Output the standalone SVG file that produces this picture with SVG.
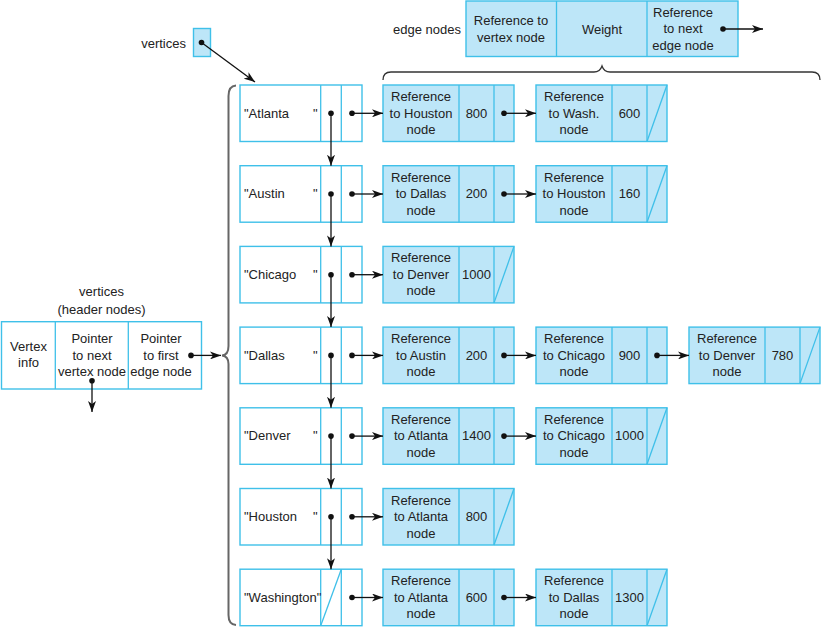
<svg xmlns="http://www.w3.org/2000/svg" width="821" height="627" viewBox="0 0 821 627">
<style>
.vbox{fill:#fff;stroke:#3fc0e9;stroke-width:1.4}
.ebox{fill:#bde6f8;stroke:#3fc0e9;stroke-width:1.4}
.sl{stroke:#3fc0e9;stroke-width:1.3;fill:none}
.t{font-family:"Liberation Sans",Arial,sans-serif;font-size:13px;fill:#222}
.c{text-anchor:middle}
.arr{stroke:#111;stroke-width:1.3;fill:none;marker-end:url(#ah)}
.dot{fill:#111}
.brace{fill:none;stroke:#666;stroke-width:2}
.brace2{fill:none;stroke:#333;stroke-width:1.3}
</style>
<defs>
<marker id="ah" markerUnits="userSpaceOnUse" markerWidth="12" markerHeight="8" refX="11" refY="4" orient="auto">
<path d="M0,0 L11,4 L0,8 L3,4 z" fill="#111"/>
</marker>
</defs>

<!-- legend -->
<g id="legend">
<text class="t" x="393" y="33.5">edge nodes</text>
<rect class="ebox" x="466" y="1" width="272" height="55.5"/>
<line class="sl" x1="556.5" y1="1" x2="556.5" y2="56.5"/>
<line class="sl" x1="647" y1="1" x2="647" y2="56.5"/>
<text class="t c" x="511" y="25">Reference to</text>
<text class="t c" x="511" y="41.5">vertex node</text>
<text class="t c" x="602" y="33.5">Weight</text>
<text class="t c" x="683" y="16.5">Reference</text>
<text class="t c" x="683" y="33">to next</text>
<text class="t c" x="683" y="49.5">edge node</text>
</g>
<path class="brace2" d="M383,80 Q383,72 391,72 L594,72 Q600,72 602,66 Q604,72 610,72 L812,72 Q820,72 820,80"/>

<g id="vertices-ptr">
<text class="t" x="186" y="47.5" text-anchor="end">vertices</text>
<rect class="ebox" x="193.5" y="28.5" width="17" height="28"/>
</g>

<g id="header-legend">
<text class="t c" x="101.5" y="296">vertices</text>
<text class="t c" x="101.5" y="313.5">(header nodes)</text>
<rect class="vbox" x="1.5" y="321.7" width="200" height="67.3"/>
<line class="sl" x1="55.3" y1="321.7" x2="55.3" y2="389"/>
<line class="sl" x1="128.3" y1="321.7" x2="128.3" y2="389"/>
<text class="t c" x="28.5" y="351.2">Vertex</text>
<text class="t c" x="28.5" y="367.2">info</text>
<text class="t c" x="92" y="343">Pointer</text>
<text class="t c" x="92" y="359.5">to next</text>
<text class="t c" x="92" y="376">vertex node</text>
<text class="t c" x="161" y="343">Pointer</text>
<text class="t c" x="161" y="359.5">to first</text>
<text class="t c" x="161" y="376">edge node</text>
</g>
<path class="brace" d="M236,85.5 Q228.5,86 228.5,96 L228.5,346 Q228.5,355 222,355.4 Q228.5,356 228.5,364 L228.5,615 Q228.5,624.5 236,625"/>

<!-- vertex nodes -->
<g id="v-atlanta" transform="translate(0,85)">
<rect class="vbox" x="240" y="0" width="122" height="56.5"/><line class="sl" x1="320.7" y1="0" x2="320.7" y2="56.5"/><line class="sl" x1="341.3" y1="0" x2="341.3" y2="56.5"/>
<text class="t" x="244" y="32.5">"Atlanta<tspan x="313">"</tspan></text>
</g>
<g id="v-austin" transform="translate(0,165.7)">
<rect class="vbox" x="240" y="0" width="122" height="56.5"/><line class="sl" x1="320.7" y1="0" x2="320.7" y2="56.5"/><line class="sl" x1="341.3" y1="0" x2="341.3" y2="56.5"/>
<text class="t" x="244" y="32.5">"Austin<tspan x="313">"</tspan></text>
</g>
<g id="v-chicago" transform="translate(0,246.4)">
<rect class="vbox" x="240" y="0" width="122" height="56.5"/><line class="sl" x1="320.7" y1="0" x2="320.7" y2="56.5"/><line class="sl" x1="341.3" y1="0" x2="341.3" y2="56.5"/>
<text class="t" x="244" y="32.5">"Chicago<tspan x="313">"</tspan></text>
</g>
<g id="v-dallas" transform="translate(0,327.1)">
<rect class="vbox" x="240" y="0" width="122" height="56.5"/><line class="sl" x1="320.7" y1="0" x2="320.7" y2="56.5"/><line class="sl" x1="341.3" y1="0" x2="341.3" y2="56.5"/>
<text class="t" x="244" y="32.5">"Dallas<tspan x="313">"</tspan></text>
</g>
<g id="v-denver" transform="translate(0,407.8)">
<rect class="vbox" x="240" y="0" width="122" height="56.5"/><line class="sl" x1="320.7" y1="0" x2="320.7" y2="56.5"/><line class="sl" x1="341.3" y1="0" x2="341.3" y2="56.5"/>
<text class="t" x="244" y="32.5">"Denver<tspan x="313">"</tspan></text>
</g>
<g id="v-houston" transform="translate(0,488.5)">
<rect class="vbox" x="240" y="0" width="122" height="56.5"/><line class="sl" x1="320.7" y1="0" x2="320.7" y2="56.5"/><line class="sl" x1="341.3" y1="0" x2="341.3" y2="56.5"/>
<text class="t" x="244" y="32.5">"Houston<tspan x="313">"</tspan></text>
</g>
<g id="v-washington" transform="translate(0,569.2)">
<rect class="vbox" x="240" y="0" width="122" height="56.5"/><line class="sl" x1="320.7" y1="0" x2="320.7" y2="56.5"/><line class="sl" x1="341.3" y1="0" x2="341.3" y2="56.5"/>
<line class="sl" x1="320.7" y1="56.5" x2="341.3" y2="0"/>
<text class="t" x="244" y="32.5">"Washington"</text>
</g>

<!-- edge nodes -->
<g id="e-atl-1" transform="translate(383,85)">
<rect class="ebox" width="131" height="56.5"/><line class="sl" x1="76" y1="0" x2="76" y2="56.5"/><line class="sl" x1="111" y1="0" x2="111" y2="56.5"/>
<text class="t c" x="38" y="16">Reference</text><text class="t c" x="38" y="32.5">to Houston</text><text class="t c" x="38" y="49">node</text><text class="t c" x="93.5" y="32.5">800</text>
</g>
<g id="e-atl-2" transform="translate(536,85)">
<rect class="ebox" width="131" height="56.5"/><line class="sl" x1="76" y1="0" x2="76" y2="56.5"/><line class="sl" x1="111" y1="0" x2="111" y2="56.5"/><line class="sl" x1="111" y1="56.5" x2="131" y2="0"/>
<text class="t c" x="38" y="16">Reference</text><text class="t c" x="38" y="32.5">to Wash.</text><text class="t c" x="38" y="49">node</text><text class="t c" x="93.5" y="32.5">600</text>
</g>
<g id="e-aus-1" transform="translate(383,165.7)">
<rect class="ebox" width="131" height="56.5"/><line class="sl" x1="76" y1="0" x2="76" y2="56.5"/><line class="sl" x1="111" y1="0" x2="111" y2="56.5"/>
<text class="t c" x="38" y="16">Reference</text><text class="t c" x="38" y="32.5">to Dallas</text><text class="t c" x="38" y="49">node</text><text class="t c" x="93.5" y="32.5">200</text>
</g>
<g id="e-aus-2" transform="translate(536,165.7)">
<rect class="ebox" width="131" height="56.5"/><line class="sl" x1="76" y1="0" x2="76" y2="56.5"/><line class="sl" x1="111" y1="0" x2="111" y2="56.5"/><line class="sl" x1="111" y1="56.5" x2="131" y2="0"/>
<text class="t c" x="38" y="16">Reference</text><text class="t c" x="38" y="32.5">to Houston</text><text class="t c" x="38" y="49">node</text><text class="t c" x="93.5" y="32.5">160</text>
</g>
<g id="e-chi-1" transform="translate(383,246.4)">
<rect class="ebox" width="131" height="56.5"/><line class="sl" x1="76" y1="0" x2="76" y2="56.5"/><line class="sl" x1="111" y1="0" x2="111" y2="56.5"/><line class="sl" x1="111" y1="56.5" x2="131" y2="0"/>
<text class="t c" x="38" y="16">Reference</text><text class="t c" x="38" y="32.5">to Denver</text><text class="t c" x="38" y="49">node</text><text class="t c" x="93.5" y="32.5">1000</text>
</g>
<g id="e-dal-1" transform="translate(383,327.1)">
<rect class="ebox" width="131" height="56.5"/><line class="sl" x1="76" y1="0" x2="76" y2="56.5"/><line class="sl" x1="111" y1="0" x2="111" y2="56.5"/>
<text class="t c" x="38" y="16">Reference</text><text class="t c" x="38" y="32.5">to Austin</text><text class="t c" x="38" y="49">node</text><text class="t c" x="93.5" y="32.5">200</text>
</g>
<g id="e-dal-2" transform="translate(536,327.1)">
<rect class="ebox" width="131" height="56.5"/><line class="sl" x1="76" y1="0" x2="76" y2="56.5"/><line class="sl" x1="111" y1="0" x2="111" y2="56.5"/>
<text class="t c" x="38" y="16">Reference</text><text class="t c" x="38" y="32.5">to Chicago</text><text class="t c" x="38" y="49">node</text><text class="t c" x="93.5" y="32.5">900</text>
</g>
<g id="e-dal-3" transform="translate(689,327.1)">
<rect class="ebox" width="131" height="56.5"/><line class="sl" x1="76" y1="0" x2="76" y2="56.5"/><line class="sl" x1="111" y1="0" x2="111" y2="56.5"/><line class="sl" x1="111" y1="56.5" x2="131" y2="0"/>
<text class="t c" x="38" y="16">Reference</text><text class="t c" x="38" y="32.5">to Denver</text><text class="t c" x="38" y="49">node</text><text class="t c" x="93.5" y="32.5">780</text>
</g>
<g id="e-den-1" transform="translate(383,407.8)">
<rect class="ebox" width="131" height="56.5"/><line class="sl" x1="76" y1="0" x2="76" y2="56.5"/><line class="sl" x1="111" y1="0" x2="111" y2="56.5"/>
<text class="t c" x="38" y="16">Reference</text><text class="t c" x="38" y="32.5">to Atlanta</text><text class="t c" x="38" y="49">node</text><text class="t c" x="93.5" y="32.5">1400</text>
</g>
<g id="e-den-2" transform="translate(536,407.8)">
<rect class="ebox" width="131" height="56.5"/><line class="sl" x1="76" y1="0" x2="76" y2="56.5"/><line class="sl" x1="111" y1="0" x2="111" y2="56.5"/><line class="sl" x1="111" y1="56.5" x2="131" y2="0"/>
<text class="t c" x="38" y="16">Reference</text><text class="t c" x="38" y="32.5">to Chicago</text><text class="t c" x="38" y="49">node</text><text class="t c" x="93.5" y="32.5">1000</text>
</g>
<g id="e-hou-1" transform="translate(383,488.5)">
<rect class="ebox" width="131" height="56.5"/><line class="sl" x1="76" y1="0" x2="76" y2="56.5"/><line class="sl" x1="111" y1="0" x2="111" y2="56.5"/><line class="sl" x1="111" y1="56.5" x2="131" y2="0"/>
<text class="t c" x="38" y="16">Reference</text><text class="t c" x="38" y="32.5">to Atlanta</text><text class="t c" x="38" y="49">node</text><text class="t c" x="93.5" y="32.5">800</text>
</g>
<g id="e-was-1" transform="translate(383,569.2)">
<rect class="ebox" width="131" height="56.5"/><line class="sl" x1="76" y1="0" x2="76" y2="56.5"/><line class="sl" x1="111" y1="0" x2="111" y2="56.5"/>
<text class="t c" x="38" y="16">Reference</text><text class="t c" x="38" y="32.5">to Atlanta</text><text class="t c" x="38" y="49">node</text><text class="t c" x="93.5" y="32.5">600</text>
</g>
<g id="e-was-2" transform="translate(536,569.2)">
<rect class="ebox" width="131" height="56.5"/><line class="sl" x1="76" y1="0" x2="76" y2="56.5"/><line class="sl" x1="111" y1="0" x2="111" y2="56.5"/><line class="sl" x1="111" y1="56.5" x2="131" y2="0"/>
<text class="t c" x="38" y="16">Reference</text><text class="t c" x="38" y="32.5">to Dallas</text><text class="t c" x="38" y="49">node</text><text class="t c" x="93.5" y="32.5">1300</text>
</g>

<!-- connectors -->
<g id="connectors">
<circle class="dot" cx="723" cy="29" r="2.8"/><line class="arr" x1="723" y1="29" x2="763" y2="29"/>
<circle class="dot" cx="201.5" cy="42.5" r="2.8"/><line class="arr" x1="201.5" y1="42.5" x2="255" y2="82"/>
<circle class="dot" cx="191" cy="355.4" r="2.8"/><line class="arr" x1="191" y1="355.4" x2="221" y2="355.4"/>
<circle class="dot" cx="92" cy="380.7" r="2.8"/><line class="arr" x1="92" y1="380.7" x2="92" y2="412"/>

<circle class="dot" cx="331" cy="113.3" r="2.8"/><line class="arr" x1="331" y1="113.3" x2="331" y2="165.7"/>
<circle class="dot" cx="331" cy="194" r="2.8"/><line class="arr" x1="331" y1="194" x2="331" y2="246.4"/>
<circle class="dot" cx="331" cy="274.7" r="2.8"/><line class="arr" x1="331" y1="274.7" x2="331" y2="327.1"/>
<circle class="dot" cx="331" cy="355.4" r="2.8"/><line class="arr" x1="331" y1="355.4" x2="331" y2="407.8"/>
<circle class="dot" cx="331" cy="436.1" r="2.8"/><line class="arr" x1="331" y1="436.1" x2="331" y2="488.5"/>
<circle class="dot" cx="331" cy="516.8" r="2.8"/><line class="arr" x1="331" y1="516.8" x2="331" y2="569.2"/>

<circle class="dot" cx="352" cy="113.3" r="2.8"/><line class="arr" x1="352" y1="113.3" x2="383" y2="113.3"/>
<circle class="dot" cx="352" cy="194" r="2.8"/><line class="arr" x1="352" y1="194" x2="383" y2="194"/>
<circle class="dot" cx="352" cy="274.7" r="2.8"/><line class="arr" x1="352" y1="274.7" x2="383" y2="274.7"/>
<circle class="dot" cx="352" cy="355.4" r="2.8"/><line class="arr" x1="352" y1="355.4" x2="383" y2="355.4"/>
<circle class="dot" cx="352" cy="436.1" r="2.8"/><line class="arr" x1="352" y1="436.1" x2="383" y2="436.1"/>
<circle class="dot" cx="352" cy="516.8" r="2.8"/><line class="arr" x1="352" y1="516.8" x2="383" y2="516.8"/>
<circle class="dot" cx="352" cy="597.5" r="2.8"/><line class="arr" x1="352" y1="597.5" x2="383" y2="597.5"/>

<circle class="dot" cx="504" cy="113.3" r="2.8"/><line class="arr" x1="504" y1="113.3" x2="536" y2="113.3"/>
<circle class="dot" cx="504" cy="194" r="2.8"/><line class="arr" x1="504" y1="194" x2="536" y2="194"/>
<circle class="dot" cx="504" cy="355.4" r="2.8"/><line class="arr" x1="504" y1="355.4" x2="536" y2="355.4"/>
<circle class="dot" cx="657" cy="355.4" r="2.8"/><line class="arr" x1="657" y1="355.4" x2="689" y2="355.4"/>
<circle class="dot" cx="504" cy="436.1" r="2.8"/><line class="arr" x1="504" y1="436.1" x2="536" y2="436.1"/>
<circle class="dot" cx="504" cy="597.5" r="2.8"/><line class="arr" x1="504" y1="597.5" x2="536" y2="597.5"/>
</g>
</svg>
